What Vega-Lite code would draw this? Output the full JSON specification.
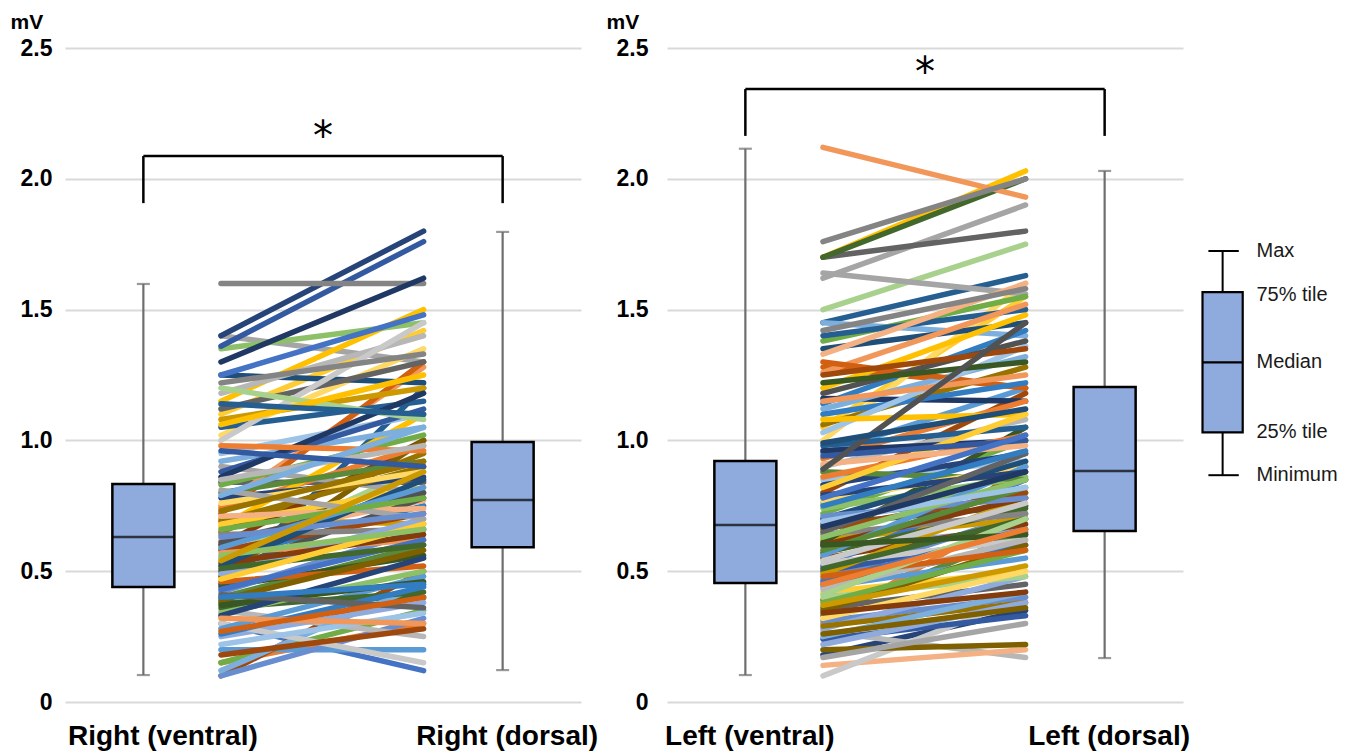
{
  "$schema": "https://vega.github.io/schema/vega-lite/v6.json",
  "background": "white",
  "padding": {"left": 10, "top": 11, "right": 5, "bottom": 2},
  "config": {"view": {"stroke": null}, "font": "Liberation Sans"},
  "datasets": {
    "rightLines": [
      {"id":1,"ventral":0.30,"dorsal":0.12},{"id":2,"ventral":0.15,"dorsal":0.30},{"id":3,"ventral":1.40,"dorsal":1.30},{"id":4,"ventral":1.15,"dorsal":1.50},
      {"id":5,"ventral":0.20,"dorsal":0.20},{"id":6,"ventral":0.15,"dorsal":0.35},{"id":7,"ventral":1.40,"dorsal":1.80},{"id":8,"ventral":0.10,"dorsal":0.50},
      {"id":9,"ventral":0.84,"dorsal":0.84},{"id":10,"ventral":0.65,"dorsal":0.95},{"id":11,"ventral":0.45,"dorsal":1.20},{"id":12,"ventral":0.38,"dorsal":0.40},
      {"id":13,"ventral":0.10,"dorsal":0.32},{"id":14,"ventral":0.75,"dorsal":1.28},{"id":15,"ventral":0.35,"dorsal":0.25},{"id":16,"ventral":1.10,"dorsal":1.42},
      {"id":17,"ventral":0.12,"dorsal":0.45},{"id":18,"ventral":1.35,"dorsal":1.45},{"id":19,"ventral":1.36,"dorsal":1.76},{"id":20,"ventral":0.72,"dorsal":1.30},
      {"id":21,"ventral":1.60,"dorsal":1.60},{"id":22,"ventral":0.70,"dorsal":0.68},{"id":23,"ventral":0.55,"dorsal":0.75},{"id":24,"ventral":0.40,"dorsal":0.60},
      {"id":25,"ventral":0.25,"dorsal":0.38},{"id":26,"ventral":0.62,"dorsal":0.77},{"id":27,"ventral":0.30,"dorsal":0.15},{"id":28,"ventral":1.02,"dorsal":1.35},
      {"id":29,"ventral":0.95,"dorsal":1.10},{"id":30,"ventral":0.55,"dorsal":0.90},{"id":31,"ventral":1.30,"dorsal":1.62},{"id":32,"ventral":0.60,"dorsal":1.00},
      {"id":33,"ventral":0.50,"dorsal":0.78},{"id":34,"ventral":0.48,"dorsal":1.00},{"id":35,"ventral":1.25,"dorsal":1.22},{"id":36,"ventral":0.44,"dorsal":0.56},
      {"id":37,"ventral":1.25,"dorsal":1.48},{"id":38,"ventral":0.74,"dorsal":0.98},{"id":39,"ventral":0.90,"dorsal":0.80},{"id":40,"ventral":0.67,"dorsal":1.10},
      {"id":41,"ventral":0.28,"dorsal":0.48},{"id":42,"ventral":0.83,"dorsal":1.02},{"id":43,"ventral":0.78,"dorsal":0.86},{"id":44,"ventral":0.58,"dorsal":0.72},
      {"id":45,"ventral":1.12,"dorsal":1.30},{"id":46,"ventral":0.69,"dorsal":0.90},{"id":47,"ventral":1.05,"dorsal":1.15},{"id":48,"ventral":0.36,"dorsal":0.42},
      {"id":49,"ventral":0.42,"dorsal":0.66},{"id":50,"ventral":0.57,"dorsal":0.62},{"id":51,"ventral":1.18,"dorsal":1.40},{"id":52,"ventral":0.68,"dorsal":0.82},
      {"id":53,"ventral":0.92,"dorsal":1.05},{"id":54,"ventral":0.34,"dorsal":0.50},{"id":55,"ventral":0.88,"dorsal":1.12},{"id":56,"ventral":0.46,"dorsal":0.52},
      {"id":57,"ventral":0.64,"dorsal":0.66},{"id":58,"ventral":1.08,"dorsal":1.20},{"id":59,"ventral":0.26,"dorsal":0.44},{"id":60,"ventral":0.80,"dorsal":0.92},
      {"id":61,"ventral":0.49,"dorsal":0.70},{"id":62,"ventral":0.71,"dorsal":0.74},{"id":63,"ventral":1.00,"dorsal":1.45},{"id":64,"ventral":0.76,"dorsal":0.88},
      {"id":65,"ventral":0.22,"dorsal":0.34},{"id":66,"ventral":1.20,"dorsal":1.08},{"id":67,"ventral":0.86,"dorsal":1.18},{"id":68,"ventral":0.53,"dorsal":0.64},
      {"id":69,"ventral":0.61,"dorsal":0.80},{"id":70,"ventral":0.39,"dorsal":0.58},{"id":71,"ventral":0.52,"dorsal":0.85},{"id":72,"ventral":0.37,"dorsal":0.46},
      {"id":73,"ventral":0.43,"dorsal":0.62},{"id":74,"ventral":0.98,"dorsal":0.96},{"id":75,"ventral":0.81,"dorsal":0.70},{"id":76,"ventral":1.06,"dorsal":1.25},
      {"id":77,"ventral":0.59,"dorsal":0.82},{"id":78,"ventral":0.66,"dorsal":0.78},{"id":79,"ventral":0.33,"dorsal":0.55},{"id":80,"ventral":0.18,"dorsal":0.28},
      {"id":81,"ventral":0.41,"dorsal":0.36},{"id":82,"ventral":0.73,"dorsal":0.92},{"id":83,"ventral":1.14,"dorsal":1.10},{"id":84,"ventral":0.51,"dorsal":0.60},
      {"id":85,"ventral":0.63,"dorsal":0.72},{"id":86,"ventral":0.32,"dorsal":0.30},{"id":87,"ventral":0.85,"dorsal":0.98},{"id":88,"ventral":0.47,"dorsal":0.68},
      {"id":89,"ventral":0.79,"dorsal":1.05},{"id":90,"ventral":0.56,"dorsal":0.66},{"id":91,"ventral":0.96,"dorsal":0.90},{"id":92,"ventral":0.27,"dorsal":0.40},
      {"id":93,"ventral":1.22,"dorsal":1.33},{"id":94,"ventral":0.54,"dorsal":0.88},{"id":95,"ventral":0.40,"dorsal":0.45}
    ],
    "leftLines": [
      {"id":1,"ventral":0.45,"dorsal":0.60},{"id":2,"ventral":0.30,"dorsal":0.75},{"id":3,"ventral":1.62,"dorsal":1.90},{"id":4,"ventral":1.70,"dorsal":2.03},
      {"id":5,"ventral":0.95,"dorsal":1.20},{"id":6,"ventral":0.72,"dorsal":1.00},{"id":7,"ventral":0.18,"dorsal":0.35},{"id":8,"ventral":0.80,"dorsal":1.18},
      {"id":9,"ventral":1.70,"dorsal":1.80},{"id":10,"ventral":0.39,"dorsal":0.90},{"id":11,"ventral":1.45,"dorsal":1.63},{"id":12,"ventral":1.70,"dorsal":2.00},
      {"id":13,"ventral":0.47,"dorsal":0.72},{"id":14,"ventral":2.12,"dorsal":1.93},{"id":15,"ventral":0.27,"dorsal":0.17},{"id":16,"ventral":1.05,"dorsal":1.55},
      {"id":17,"ventral":1.45,"dorsal":1.40},{"id":18,"ventral":0.76,"dorsal":0.80},{"id":19,"ventral":0.50,"dorsal":0.64},{"id":20,"ventral":1.28,"dorsal":1.20},
      {"id":21,"ventral":1.76,"dorsal":2.00},{"id":22,"ventral":0.62,"dorsal":0.70},{"id":23,"ventral":1.14,"dorsal":1.42},{"id":24,"ventral":0.33,"dorsal":0.65},
      {"id":25,"ventral":0.59,"dorsal":0.66},{"id":26,"ventral":0.14,"dorsal":0.20},{"id":27,"ventral":0.10,"dorsal":0.40},{"id":28,"ventral":1.00,"dorsal":1.60},
      {"id":29,"ventral":0.85,"dorsal":0.92},{"id":30,"ventral":1.50,"dorsal":1.75},{"id":31,"ventral":1.16,"dorsal":1.15},{"id":32,"ventral":0.55,"dorsal":0.68},
      {"id":33,"ventral":0.68,"dorsal":0.75},{"id":34,"ventral":0.20,"dorsal":0.22},{"id":35,"ventral":1.35,"dorsal":1.45},{"id":36,"ventral":0.61,"dorsal":1.05},
      {"id":37,"ventral":0.52,"dorsal":0.85},{"id":38,"ventral":0.93,"dorsal":1.15},{"id":39,"ventral":1.64,"dorsal":1.56},{"id":40,"ventral":1.20,"dorsal":1.48},
      {"id":41,"ventral":0.44,"dorsal":0.55},{"id":42,"ventral":1.38,"dorsal":1.55},{"id":43,"ventral":0.83,"dorsal":0.95},{"id":44,"ventral":0.66,"dorsal":0.80},
      {"id":45,"ventral":0.36,"dorsal":0.45},{"id":46,"ventral":1.06,"dorsal":1.28},{"id":47,"ventral":1.40,"dorsal":1.50},{"id":48,"ventral":0.57,"dorsal":0.74},
      {"id":49,"ventral":0.31,"dorsal":0.40},{"id":50,"ventral":1.26,"dorsal":1.52},{"id":51,"ventral":0.90,"dorsal":1.08},{"id":52,"ventral":0.42,"dorsal":0.50},
      {"id":53,"ventral":1.12,"dorsal":1.32},{"id":54,"ventral":0.74,"dorsal":0.86},{"id":55,"ventral":0.24,"dorsal":0.33},{"id":56,"ventral":1.30,"dorsal":1.20},
      {"id":57,"ventral":0.64,"dorsal":0.72},{"id":58,"ventral":0.49,"dorsal":0.78},{"id":59,"ventral":1.10,"dorsal":1.22},{"id":60,"ventral":0.88,"dorsal":0.85},
      {"id":61,"ventral":0.28,"dorsal":0.48},{"id":62,"ventral":1.33,"dorsal":1.60},{"id":63,"ventral":0.53,"dorsal":0.62},{"id":64,"ventral":0.77,"dorsal":0.90},
      {"id":65,"ventral":1.03,"dorsal":1.36},{"id":66,"ventral":0.40,"dorsal":0.48},{"id":67,"ventral":0.96,"dorsal":1.00},{"id":68,"ventral":0.60,"dorsal":0.78},
      {"id":69,"ventral":1.18,"dorsal":1.38},{"id":70,"ventral":0.35,"dorsal":0.60},{"id":71,"ventral":0.70,"dorsal":0.92},{"id":72,"ventral":1.22,"dorsal":1.30},
      {"id":73,"ventral":0.46,"dorsal":0.66},{"id":74,"ventral":0.86,"dorsal":1.02},{"id":75,"ventral":0.17,"dorsal":0.30},{"id":76,"ventral":1.08,"dorsal":1.10},
      {"id":77,"ventral":0.56,"dorsal":0.90},{"id":78,"ventral":0.38,"dorsal":0.58},{"id":79,"ventral":0.79,"dorsal":0.88},{"id":80,"ventral":1.25,"dorsal":1.35},
      {"id":81,"ventral":0.65,"dorsal":0.95},{"id":82,"ventral":0.29,"dorsal":0.38},{"id":83,"ventral":0.98,"dorsal":1.05},{"id":84,"ventral":0.51,"dorsal":0.70},
      {"id":85,"ventral":0.71,"dorsal":0.78},{"id":86,"ventral":1.15,"dorsal":1.25},{"id":87,"ventral":0.43,"dorsal":0.62},{"id":88,"ventral":0.82,"dorsal":1.10},
      {"id":89,"ventral":0.25,"dorsal":0.42},{"id":90,"ventral":0.63,"dorsal":0.85},{"id":91,"ventral":0.94,"dorsal":1.00},{"id":92,"ventral":0.48,"dorsal":0.58},
      {"id":93,"ventral":1.42,"dorsal":1.58},{"id":94,"ventral":0.37,"dorsal":0.52},{"id":95,"ventral":0.75,"dorsal":0.96},{"id":96,"ventral":0.58,"dorsal":0.82},
      {"id":97,"ventral":0.22,"dorsal":0.38},{"id":98,"ventral":0.91,"dorsal":0.98},{"id":99,"ventral":0.54,"dorsal":0.76},{"id":100,"ventral":0.32,"dorsal":0.50},
      {"id":101,"ventral":0.69,"dorsal":0.82},{"id":102,"ventral":0.41,"dorsal":0.70},{"id":103,"ventral":0.67,"dorsal":0.88},{"id":104,"ventral":0.34,"dorsal":0.42},
      {"id":105,"ventral":0.89,"dorsal":1.45},{"id":106,"ventral":0.26,"dorsal":0.36},{"id":107,"ventral":0.99,"dorsal":1.12},{"id":108,"ventral":0.60,"dorsal":0.64},
      {"id":109,"ventral":0.78,"dorsal":1.02},{"id":110,"ventral":0.45,"dorsal":0.66}
    ],
    "rightBox": [
      {"site":1,"min":0.103,"q1":0.44,"median":0.631,"q3":0.833,"max":1.598},
      {"site":2,"min":0.122,"q1":0.592,"median":0.772,"q3":0.994,"max":1.797}
    ],
    "leftBox": [
      {"site":1,"min":0.103,"q1":0.455,"median":0.677,"q3":0.921,"max":2.115},
      {"site":2,"min":0.168,"q1":0.654,"median":0.883,"q3":1.204,"max":2.03}
    ],
    "legendBox": [{"min":0.867,"q1":1.031,"median":1.298,"q3":1.567,"max":1.724}],
    "legendText": [
      {"label":"Max","mV":1.724},{"label":"75% tile","mV":1.555},{"label":"Median","mV":1.298},
      {"label":"25% tile","mV":1.031},{"label":"Minimum","mV":0.867}
    ]
  },
  "hconcat": [
    {
      "width": 516, "height": 654,
      "layer": [
        {
          "data": {"name": "rightLines"},
          "mark": {"type": "rule", "strokeWidth": 5.5, "strokeCap": "round"},
          "encoding": {
            "x": {"datum": 1.216, "type": "quantitative", "title": null, "scale": {"domain": [0.7958, 2.2042], "nice": false, "zero": false},
              "axis": {"values": [1, 2], "labelExpr": "datum.value == 1 ? 'Right (ventral)' : 'Right (dorsal)'", "domain": false, "ticks": false, "grid": false,
                "labelFontSize": 28, "labelFontWeight": "bold", "labelColor": "black", "labelPadding": 20, "labelFlush": false, "labelOverlap": false, "labelBound": false, "labelLimit": 0,
                "labelOffset": {"condition": {"test": "datum.value == 1", "value": 19}, "value": 4}}},
            "x2": {"datum": 1.78},
            "y": {"field": "ventral", "type": "quantitative", "title": "mV", "scale": {"domain": [0, 2.5], "nice": false},
              "axis": {"values": [0, 0.5, 1, 1.5, 2, 2.5], "labelExpr": "datum.value == 0 ? '0' : format(datum.value, '.1f')", "domain": false, "ticks": false, "grid": true,
                "gridColor": "#D9D9D9", "gridWidth": 2, "labelFontSize": 23, "labelFontWeight": "bold", "labelColor": "black", "labelPadding": 13, "labelFlush": false, "labelOverlap": false,
                "titleAngle": 0, "titleX": -55, "titleY": -20, "titleAlign": "left", "titleBaseline": "alphabetic", "titleFontSize": 21, "titleFontWeight": "bold", "titleColor": "black"}},
            "y2": {"field": "dorsal"},
            "color": {"field": "id", "type": "ordinal", "legend": null,
              "scale": {"range": ["#4472C4","#ED7D31","#A5A5A5","#FFC000","#5B9BD5","#70AD47","#264478","#9E480E","#636363","#997300","#255E91","#43682B","#698ED0","#F1975A","#B7B7B7","#FFCD33","#7CAFDD","#8CC168","#335AA1","#D26012","#848484","#CC9A00","#327DC2","#5A8A39","#8FAADC","#F4B183","#C9C9C9","#FFD966","#9DC3E6","#A9D18E","#203864","#843C0C","#525252","#7F6000","#1F4E79","#385723"]}}
          }
        },
        {
          "data": {"name": "rightBox"},
          "mark": {"type": "rule", "color": "#6E6E6E", "strokeWidth": 2.2},
          "encoding": {
            "x": {"field": "site", "type": "quantitative", "title": null, "scale": {"domain": [0.7958, 2.2042], "nice": false, "zero": false}},
            "y": {"field": "min", "type": "quantitative", "title": "mV", "scale": {"domain": [0, 2.5], "nice": false}},
            "y2": {"field": "max"}
          }
        },
        {
          "data": {"name": "rightBox"},
          "mark": {"type": "tick", "orient": "horizontal", "color": "#6E6E6E", "size": 13, "thickness": 2.2},
          "encoding": {
            "x": {"field": "site", "type": "quantitative", "title": null, "scale": {"domain": [0.7958, 2.2042], "nice": false, "zero": false}},
            "y": {"field": "min", "type": "quantitative", "title": "mV", "scale": {"domain": [0, 2.5], "nice": false}}
          }
        },
        {
          "data": {"name": "rightBox"},
          "mark": {"type": "tick", "orient": "horizontal", "color": "#6E6E6E", "size": 13, "thickness": 2.2},
          "encoding": {
            "x": {"field": "site", "type": "quantitative", "title": null, "scale": {"domain": [0.7958, 2.2042], "nice": false, "zero": false}},
            "y": {"field": "max", "type": "quantitative", "title": "mV", "scale": {"domain": [0, 2.5], "nice": false}}
          }
        },
        {
          "data": {"name": "rightBox"},
          "mark": {"type": "bar", "width": 62, "fill": "#8FAADC", "stroke": "black", "strokeWidth": 2.5},
          "encoding": {
            "x": {"field": "site", "type": "quantitative", "title": null, "scale": {"domain": [0.7958, 2.2042], "nice": false, "zero": false}},
            "y": {"field": "q1", "type": "quantitative", "title": "mV", "scale": {"domain": [0, 2.5], "nice": false}},
            "y2": {"field": "q3"}
          }
        },
        {
          "data": {"name": "rightBox"},
          "mark": {"type": "tick", "orient": "horizontal", "color": "black", "size": 62, "thickness": 2.5},
          "encoding": {
            "x": {"field": "site", "type": "quantitative", "title": null, "scale": {"domain": [0.7958, 2.2042], "nice": false, "zero": false}},
            "y": {"field": "median", "type": "quantitative", "title": "mV", "scale": {"domain": [0, 2.5], "nice": false}}
          }
        },
        {
          "data": {"values": [{"top": 2.087, "leg": 1.907}]},
          "mark": {"type": "rule", "color": "black", "strokeWidth": 2.5},
          "encoding": {
            "x": {"datum": 1, "type": "quantitative", "title": null, "scale": {"domain": [0.7958, 2.2042], "nice": false, "zero": false}},
            "x2": {"datum": 2},
            "y": {"field": "top", "type": "quantitative", "title": "mV", "scale": {"domain": [0, 2.5], "nice": false}}
          }
        },
        {
          "data": {"values": [{"site": 1, "top": 2.087, "leg": 1.907}, {"site": 2, "top": 2.087, "leg": 1.907}]},
          "mark": {"type": "rule", "color": "black", "strokeWidth": 2.5},
          "encoding": {
            "x": {"field": "site", "type": "quantitative", "title": null, "scale": {"domain": [0.7958, 2.2042], "nice": false, "zero": false}},
            "y": {"field": "top", "type": "quantitative", "title": "mV", "scale": {"domain": [0, 2.5], "nice": false}},
            "y2": {"field": "leg"}
          }
        },
        {
          "data": {"values": [{"label": "*", "pos": 1.5, "mV": 2.11}]},
          "mark": {"type": "text", "font": "DejaVu Sans", "fontSize": 40, "color": "black", "baseline": "alphabetic", "align": "center"},
          "encoding": {
            "x": {"field": "pos", "type": "quantitative", "title": null, "scale": {"domain": [0.7958, 2.2042], "nice": false, "zero": false}},
            "y": {"field": "mV", "type": "quantitative", "title": "mV", "scale": {"domain": [0, 2.5], "nice": false}},
            "text": {"field": "label"}
          }
        }
      ]
    },
    {
      "width": 516, "height": 654,
      "layer": [
        {
          "data": {"name": "leftLines"},
          "mark": {"type": "rule", "strokeWidth": 5.5, "strokeCap": "round"},
          "encoding": {
            "x": {"datum": 1.216, "type": "quantitative", "title": null, "scale": {"domain": [0.7958, 2.2042], "nice": false, "zero": false},
              "axis": {"values": [1, 2], "labelExpr": "datum.value == 1 ? 'Left (ventral)' : 'Left (dorsal)'", "domain": false, "ticks": false, "grid": false,
                "labelFontSize": 28, "labelFontWeight": "bold", "labelColor": "black", "labelPadding": 20, "labelFlush": false, "labelOverlap": false, "labelBound": false, "labelLimit": 0,
                "labelOffset": 4}},
            "x2": {"datum": 1.78},
            "y": {"field": "ventral", "type": "quantitative", "title": "mV", "scale": {"domain": [0, 2.5], "nice": false},
              "axis": {"values": [0, 0.5, 1, 1.5, 2, 2.5], "labelExpr": "datum.value == 0 ? '0' : format(datum.value, '.1f')", "domain": false, "ticks": false, "grid": true,
                "gridColor": "#D9D9D9", "gridWidth": 2, "labelFontSize": 23, "labelFontWeight": "bold", "labelColor": "black", "labelPadding": 19, "labelFlush": false, "labelOverlap": false,
                "titleAngle": 0, "titleX": -61, "titleY": -20, "titleAlign": "left", "titleBaseline": "alphabetic", "titleFontSize": 21, "titleFontWeight": "bold", "titleColor": "black"}},
            "y2": {"field": "dorsal"},
            "color": {"field": "id", "type": "ordinal", "legend": null}
          }
        },
        {
          "data": {"name": "leftBox"},
          "mark": {"type": "rule", "color": "#6E6E6E", "strokeWidth": 2.2},
          "encoding": {
            "x": {"field": "site", "type": "quantitative", "title": null, "scale": {"domain": [0.7958, 2.2042], "nice": false, "zero": false}},
            "y": {"field": "min", "type": "quantitative", "title": "mV", "scale": {"domain": [0, 2.5], "nice": false}},
            "y2": {"field": "max"}
          }
        },
        {
          "data": {"name": "leftBox"},
          "mark": {"type": "tick", "orient": "horizontal", "color": "#6E6E6E", "size": 13, "thickness": 2.2},
          "encoding": {
            "x": {"field": "site", "type": "quantitative", "title": null, "scale": {"domain": [0.7958, 2.2042], "nice": false, "zero": false}},
            "y": {"field": "min", "type": "quantitative", "title": "mV", "scale": {"domain": [0, 2.5], "nice": false}}
          }
        },
        {
          "data": {"name": "leftBox"},
          "mark": {"type": "tick", "orient": "horizontal", "color": "#6E6E6E", "size": 13, "thickness": 2.2},
          "encoding": {
            "x": {"field": "site", "type": "quantitative", "title": null, "scale": {"domain": [0.7958, 2.2042], "nice": false, "zero": false}},
            "y": {"field": "max", "type": "quantitative", "title": "mV", "scale": {"domain": [0, 2.5], "nice": false}}
          }
        },
        {
          "data": {"name": "leftBox"},
          "mark": {"type": "bar", "width": 62, "fill": "#8FAADC", "stroke": "black", "strokeWidth": 2.5},
          "encoding": {
            "x": {"field": "site", "type": "quantitative", "title": null, "scale": {"domain": [0.7958, 2.2042], "nice": false, "zero": false}},
            "y": {"field": "q1", "type": "quantitative", "title": "mV", "scale": {"domain": [0, 2.5], "nice": false}},
            "y2": {"field": "q3"}
          }
        },
        {
          "data": {"name": "leftBox"},
          "mark": {"type": "tick", "orient": "horizontal", "color": "black", "size": 62, "thickness": 2.5},
          "encoding": {
            "x": {"field": "site", "type": "quantitative", "title": null, "scale": {"domain": [0.7958, 2.2042], "nice": false, "zero": false}},
            "y": {"field": "median", "type": "quantitative", "title": "mV", "scale": {"domain": [0, 2.5], "nice": false}}
          }
        },
        {
          "data": {"values": [{"top": 2.343, "leg": 2.164}]},
          "mark": {"type": "rule", "color": "black", "strokeWidth": 2.5},
          "encoding": {
            "x": {"datum": 1, "type": "quantitative", "title": null, "scale": {"domain": [0.7958, 2.2042], "nice": false, "zero": false}},
            "x2": {"datum": 2},
            "y": {"field": "top", "type": "quantitative", "title": "mV", "scale": {"domain": [0, 2.5], "nice": false}}
          }
        },
        {
          "data": {"values": [{"site": 1, "top": 2.343, "leg": 2.164}, {"site": 2, "top": 2.343, "leg": 2.164}]},
          "mark": {"type": "rule", "color": "black", "strokeWidth": 2.5},
          "encoding": {
            "x": {"field": "site", "type": "quantitative", "title": null, "scale": {"domain": [0.7958, 2.2042], "nice": false, "zero": false}},
            "y": {"field": "top", "type": "quantitative", "title": "mV", "scale": {"domain": [0, 2.5], "nice": false}},
            "y2": {"field": "leg"}
          }
        },
        {
          "data": {"values": [{"label": "*", "pos": 1.5, "mV": 2.355}]},
          "mark": {"type": "text", "font": "DejaVu Sans", "fontSize": 40, "color": "black", "baseline": "alphabetic", "align": "center"},
          "encoding": {
            "x": {"field": "pos", "type": "quantitative", "title": null, "scale": {"domain": [0.7958, 2.2042], "nice": false, "zero": false}},
            "y": {"field": "mV", "type": "quantitative", "title": "mV", "scale": {"domain": [0, 2.5], "nice": false}},
            "text": {"field": "label"}
          }
        },
        {
          "data": {"name": "legendBox"},
          "mark": {"type": "rule", "color": "black", "strokeWidth": 2},
          "encoding": {
            "x": {"datum": 2.3284, "type": "quantitative", "title": null, "scale": {"domain": [0.7958, 2.2042], "nice": false, "zero": false}},
            "y": {"field": "min", "type": "quantitative", "title": "mV", "scale": {"domain": [0, 2.5], "nice": false}},
            "y2": {"field": "max"}
          }
        },
        {
          "data": {"name": "legendBox"},
          "mark": {"type": "rule", "color": "black", "strokeWidth": 2},
          "encoding": {
            "x": {"datum": 2.2888, "type": "quantitative", "title": null, "scale": {"domain": [0.7958, 2.2042], "nice": false, "zero": false}},
            "x2": {"datum": 2.3734},
            "y": {"field": "max", "type": "quantitative", "title": "mV", "scale": {"domain": [0, 2.5], "nice": false}}
          }
        },
        {
          "data": {"name": "legendBox"},
          "mark": {"type": "rule", "color": "black", "strokeWidth": 2},
          "encoding": {
            "x": {"datum": 2.2888, "type": "quantitative", "title": null, "scale": {"domain": [0.7958, 2.2042], "nice": false, "zero": false}},
            "x2": {"datum": 2.3734},
            "y": {"field": "min", "type": "quantitative", "title": "mV", "scale": {"domain": [0, 2.5], "nice": false}}
          }
        },
        {
          "data": {"name": "legendBox"},
          "mark": {"type": "rect", "fill": "#8FAADC", "stroke": "black", "strokeWidth": 2.2},
          "encoding": {
            "x": {"datum": 2.2724, "type": "quantitative", "title": null, "scale": {"domain": [0.7958, 2.2042], "nice": false, "zero": false}},
            "x2": {"datum": 2.3843},
            "y": {"field": "q1", "type": "quantitative", "title": "mV", "scale": {"domain": [0, 2.5], "nice": false}},
            "y2": {"field": "q3"}
          }
        },
        {
          "data": {"name": "legendBox"},
          "mark": {"type": "rule", "color": "black", "strokeWidth": 2.2},
          "encoding": {
            "x": {"datum": 2.2724, "type": "quantitative", "title": null, "scale": {"domain": [0.7958, 2.2042], "nice": false, "zero": false}},
            "x2": {"datum": 2.3843},
            "y": {"field": "median", "type": "quantitative", "title": "mV", "scale": {"domain": [0, 2.5], "nice": false}}
          }
        },
        {
          "data": {"name": "legendText"},
          "mark": {"type": "text", "fontSize": 20, "color": "#1A1A1A", "align": "left", "baseline": "middle"},
          "encoding": {
            "x": {"datum": 2.4226, "type": "quantitative", "title": null, "scale": {"domain": [0.7958, 2.2042], "nice": false, "zero": false}},
            "y": {"field": "mV", "type": "quantitative", "title": "mV", "scale": {"domain": [0, 2.5], "nice": false}},
            "text": {"field": "label"}
          }
        }
      ]
    }
  ],
  "spacing": 86,
  "bounds": "flush"
}
